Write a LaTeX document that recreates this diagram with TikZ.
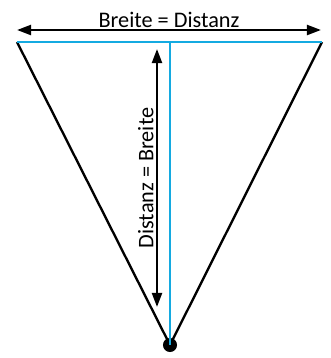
\documentclass[tikz,border=0pt]{standalone}
\usepackage{fontspec}
\setmainfont{Carlito}
\usetikzlibrary{arrows.meta}
\definecolor{lineblue}{RGB}{20,170,225}

\begin{document}
\begin{tikzpicture}[x=0.03cm, y=-0.03cm, line width=2pt,
  dim/.style={{Triangle[length=12pt,width=8.5pt]}-{Triangle[length=12pt,width=8.5pt]}},
  every node/.style={font=\fontsize{19}{22}\selectfont}]
\useasboundingbox (0,0) rectangle (330,358);
\coordinate (L) at (17,42);
\coordinate (R) at (322,42);
\coordinate (M) at (170,42);
\node[circle, fill, inner sep=0pt, minimum size=12pt] (E) at (170,345) {};
\coordinate (A1) at (17,30);
\coordinate (A2) at (321,30);
\coordinate (B1) at (157,49);
\coordinate (B2) at (157,307);
\draw (L) -- (E.center) -- (R);
\draw[lineblue] (L) -- (R);
\draw[lineblue] (M) -- (E.center);
\draw[dim] (A1) -- node[above, inner sep=1pt]{Breite = Distanz} (A2);
\draw[dim] (B1) -- node[above, sloped, rotate=180, inner sep=2pt]{Distanz = Breite} (B2);
\end{tikzpicture}
\end{document}
